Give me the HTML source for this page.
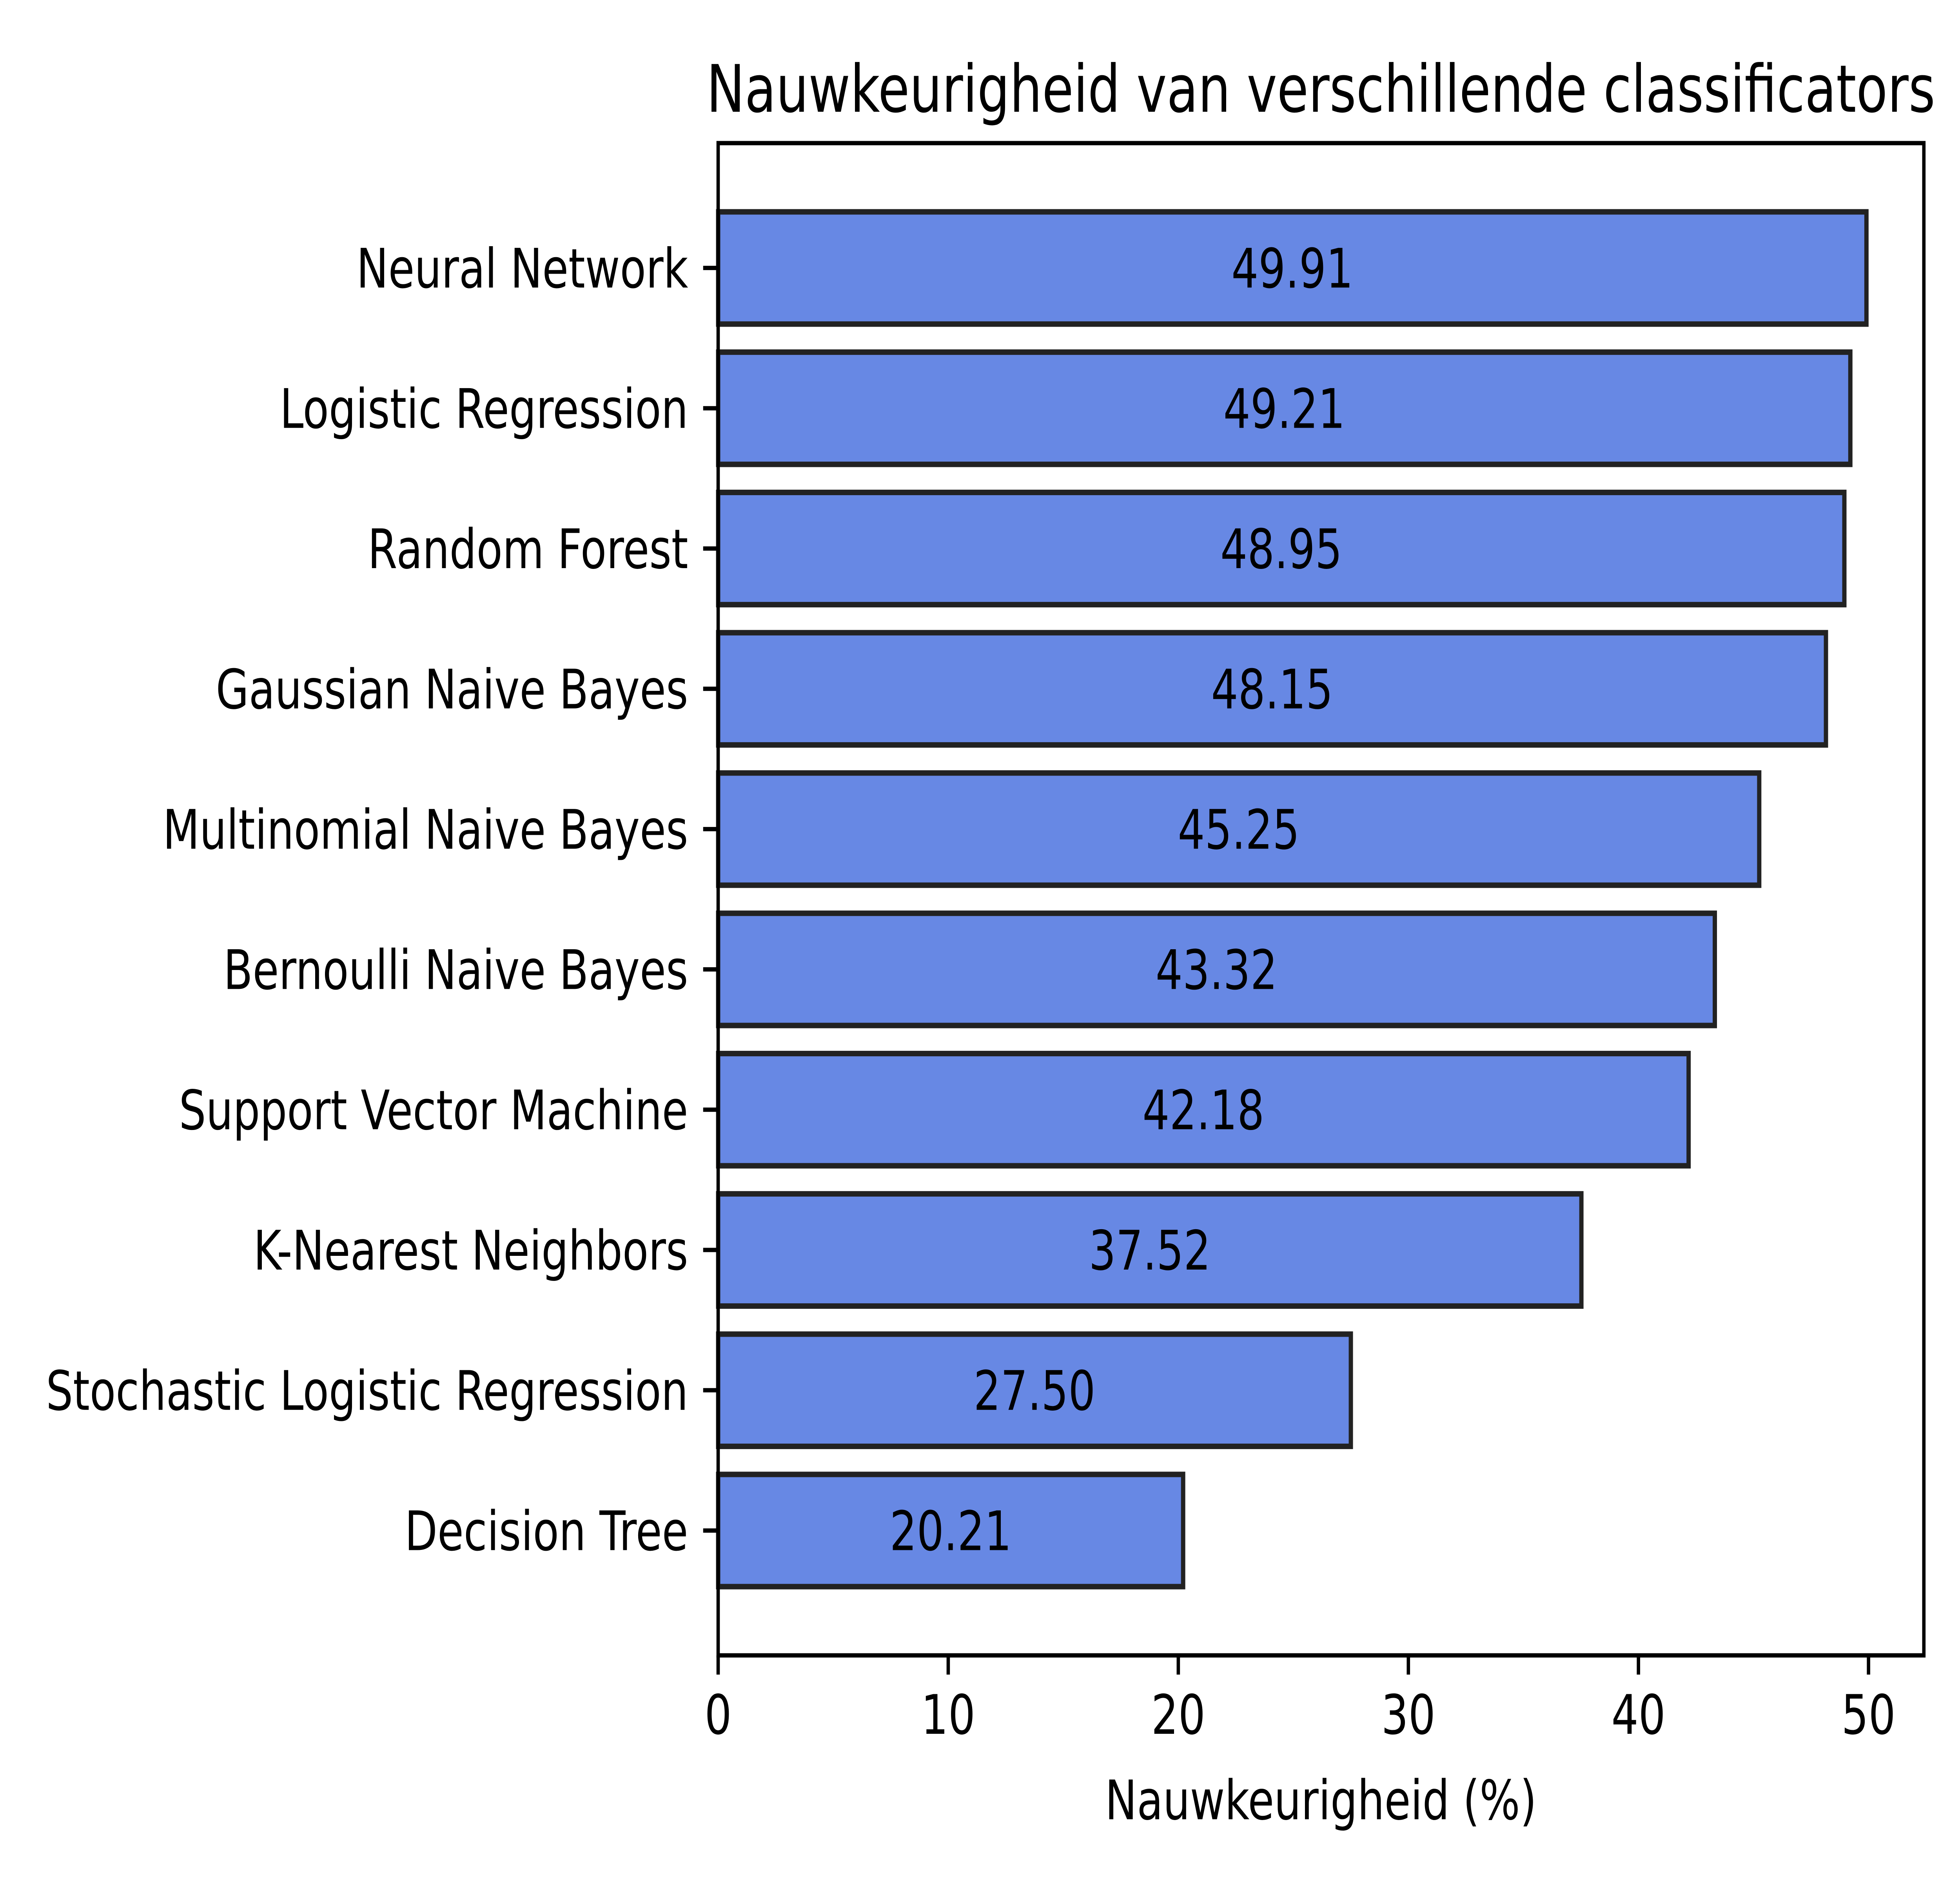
<!DOCTYPE html>
<html><head><meta charset="utf-8"><style>
html,body{margin:0;padding:0;background:#fff;width:100%;height:100%;overflow:hidden;}
svg{display:block;position:fixed;left:0;top:0;width:100vw;height:100vh;font-family:"DejaVu Sans","Liberation Sans",sans-serif;}
</style></head><body>
<svg id="chart" viewBox="0 0 6400 4800" preserveAspectRatio="none" xmlns="http://www.w3.org/2000/svg">
<rect x="0" y="0" width="6400" height="4800" fill="#fff"/>
<g id="bars"></g>
<g id="yaxis"></g>
<g id="xaxis"></g>
<rect x="2345" y="365" width="3937" height="3857" fill="none" stroke="#000" stroke-width="11"/>
<text x="4313" y="285" font-size="167" text-anchor="middle">Nauwkeurigheid van verschillende classificators</text>
<text x="4313" y="4640" font-size="139" text-anchor="middle">Nauwkeurigheid (%)</text>
</svg>
<script>
const categories = ["Neural Network","Logistic Regression","Random Forest","Gaussian Naive Bayes","Multinomial Naive Bayes","Bernoulli Naive Bayes","Support Vector Machine","K-Nearest Neighbors","Stochastic Logistic Regression","Decision Tree"];
const values = [49.91,49.21,48.95,48.15,45.25,43.32,42.18,37.52,27.50,20.21];
const xTicks = [0,10,20,30,40,50];

const NS = "http://www.w3.org/2000/svg";
const L = 2345, R = 6282, T = 365, B = 4222;
const xMax = Math.max(...values) * 1.05;
function xScale(v){ return L + (v / xMax) * (R - L); }
const n = categories.length;
const yMin = -0.4 - 0.49, yMax = (n - 1) + 0.4 + 0.49;
function yScale(i){ return T + (i - yMin) / (yMax - yMin) * (B - T); }
const unit = (B - T) / (yMax - yMin);
const barH = 0.8 * unit;

const bars = document.getElementById('bars');
const yaxis = document.getElementById('yaxis');
const xaxis = document.getElementById('xaxis');

values.forEach((v, i) => {
  const cy = yScale(i);
  const r = document.createElementNS(NS, 'rect');
  r.setAttribute('x', xScale(0));
  r.setAttribute('y', cy - barH / 2);
  r.setAttribute('width', xScale(v) - xScale(0));
  r.setAttribute('height', barH);
  r.setAttribute('fill', '#6788e4');
  r.setAttribute('stroke', '#222');
  r.setAttribute('stroke-width', '14');
  
  
  bars.appendChild(r);

  const t = document.createElementNS(NS, 'text');
  t.setAttribute('x', xScale(v / 2));
  t.setAttribute('y', cy + 50);
  t.setAttribute('font-size', '139');
  t.setAttribute('text-anchor', 'middle');
  t.textContent = v.toFixed(2);
  
  
  bars.appendChild(t);

  const tk = document.createElementNS(NS, 'line');
  tk.setAttribute('x1', L); tk.setAttribute('x2', L - 49);
  tk.setAttribute('y1', cy); tk.setAttribute('y2', cy);
  tk.setAttribute('stroke', '#000'); tk.setAttribute('stroke-width', '11');
  
  
  yaxis.appendChild(tk);

  const lb = document.createElementNS(NS, 'text');
  lb.setAttribute('x', L - 49 - 49);
  lb.setAttribute('y', cy + 50);
  lb.setAttribute('font-size', '139');
  lb.setAttribute('text-anchor', 'end');
  lb.textContent = categories[i];
  
  
  yaxis.appendChild(lb);
});

xTicks.forEach(v => {
  const x = xScale(v);
  const tk = document.createElementNS(NS, 'line');
  tk.setAttribute('x1', x); tk.setAttribute('x2', x);
  tk.setAttribute('y1', B); tk.setAttribute('y2', B + 49);
  tk.setAttribute('stroke', '#000'); tk.setAttribute('stroke-width', '11');
  
  
  xaxis.appendChild(tk);

  const lb = document.createElementNS(NS, 'text');
  lb.setAttribute('x', x);
  lb.setAttribute('y', B + 49 + 49 + 102);
  lb.setAttribute('font-size', '139');
  lb.setAttribute('text-anchor', 'middle');
  lb.textContent = String(v);
  
  
  xaxis.appendChild(lb);
});
</script>
</body></html>
